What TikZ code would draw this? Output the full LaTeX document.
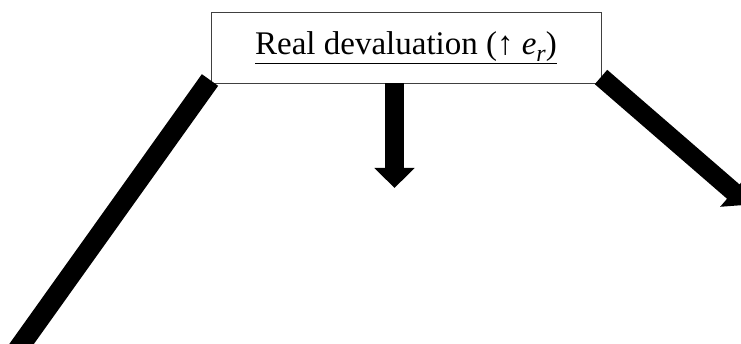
\documentclass[tikz,border=0pt]{standalone}
\usepackage{fontspec}
\setmainfont{Liberation Serif}
\usetikzlibrary{arrows.meta}
\tikzset{
  titlebox/.style={draw=black!75, line width=0.9pt, fill=white, minimum width=390pt, minimum height=71pt, inner sep=0pt, font=\fontsize{33}{40}\selectfont},
  blockarrow/.style={line width=19pt, line cap=butt, -{Triangle[length=20pt,width=39pt]}},
  blockline/.style={line width=20pt, line cap=butt}
}
\newcommand{\ersym}{\textit{e}\raisebox{-0.22em}{\fontsize{24}{24}\selectfont\textit{r}}}
\begin{document}
\begin{tikzpicture}[x=1pt,y=-1pt]
\useasboundingbox (0,0) rectangle (741,344);
\clip (0,0) rectangle (741,344);
\node[titlebox] (box) at (406,47.5) {\underline{Real devaluation (↑ \ersym)}};
\coordinate (ls) at (210,80);
\coordinate (le) at (3,370);
\coordinate (rs) at (601,77);
\coordinate (re) at (748.4,204.7);
\coordinate (ms) at ([xshift=-11.5pt]box.south);
\coordinate (me) at (394.5,188);
\draw[blockline] (ls) -- (le);
\draw[blockarrow] (rs) -- (re);
\draw[blockarrow] (ms) -- (me);
\end{tikzpicture}
\end{document}
